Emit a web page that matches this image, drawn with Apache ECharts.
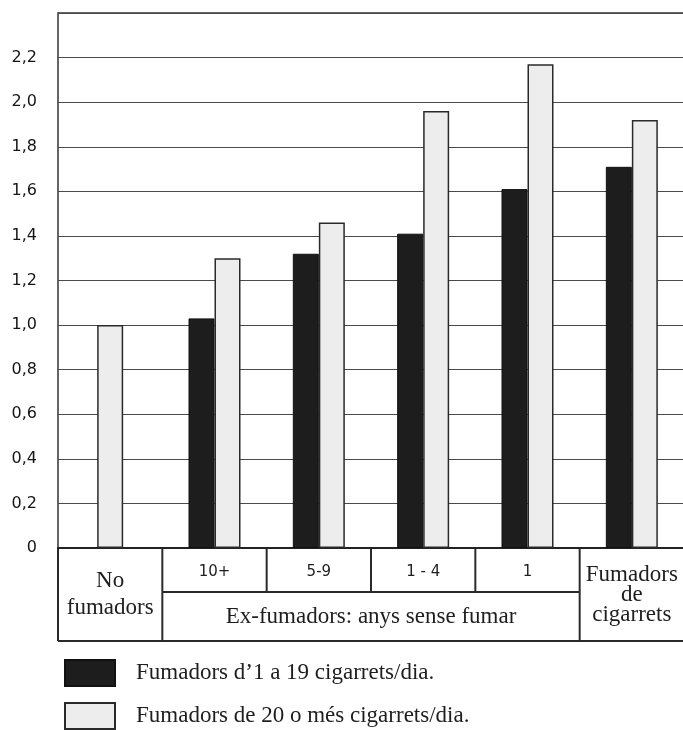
<!DOCTYPE html>
<html>
<head>
<meta charset="utf-8">
<script src="https://cdn.jsdelivr.net/npm/echarts@6/dist/echarts.min.js"></script>
<style>
  html, body { margin: 0; padding: 0; background: #fff; }
  #chart { width: 683px; height: 730px; }
</style>
</head>
<body>
<div id="chart"></div>
<script>
// data
const categories = ['No fumadors', '10+', '5-9', '1 - 4', '1', 'Fumadors de cigarrets'];
const topRowLabels = ['', '10+', '5-9', '1 - 4', '1', ''];
const noSmokers = [1.0, '-', '-', '-', '-', '-'];
const light = ['-', 1.30, 1.46, 1.96, 2.17, 1.92];
const dark = ['-', 1.03, 1.32, 1.41, 1.61, 1.71];
const darkName = 'Fumadors d\u20191 a 19 cigarrets/dia.';
const lightName = 'Fumadors de 20 o més cigarrets/dia.';
const groups = [
  { text: 'No\nfumadors', from: 0, to: 0, lh: 27 },
  { text: 'Ex-fumadors: anys sense fumar', from: 1, to: 4, lh: 22 },
  { text: 'Fumadors\nde\ncigarrets', from: 5, to: 5, lh: 20 }
];
const yMax = 2.4;
const yStep = 0.2;

const serif = '"Liberation Serif", "DejaVu Serif", serif';
const sans = '"DejaVu Sans", sans-serif';
const ink = '#1e1e1e';

const chart = echarts.init(document.getElementById('chart'));

const legendBase = {
  orient: 'vertical',
  left: 64,
  padding: 0,
  icon: 'rect',
  itemWidth: 50,
  itemHeight: 26,
  textStyle: {
    fontFamily: serif,
    fontSize: 23,
    color: ink,
    padding: [2, 0, 0, 16]
  }
};

const option = {
  animation: false,
  backgroundColor: '#fff',
  grid: {
    left: 58,
    right: -1,
    top: 13,
    bottom: 182,
    show: true,
    borderColor: '#333',
    borderWidth: 1.5,
    outerBoundsMode: 'none'
  },
  legend: [
    Object.assign({}, legendBase, { top: 659, data: [darkName] }),
    Object.assign({}, legendBase, { top: 702, data: [lightName] })
  ],
  xAxis: [
    {
      type: 'category',
      data: categories,
      axisLabel: { show: false },
      axisTick: { show: false },
      axisLine: { show: true, lineStyle: { color: '#222', width: 2 } }
    },
    {
      type: 'category',
      data: categories,
      show: false
    }
  ],
  yAxis: {
    type: 'value',
    min: 0,
    max: yMax,
    interval: yStep,
    axisLine: { show: false },
    axisTick: { show: false },
    splitLine: { lineStyle: { color: '#4a4a4a', width: 1.2 } },
    axisLabel: {
      margin: 21,
      padding: [0, 0, 10, 0],
      fontFamily: sans,
      fontSize: 16,
      color: '#151515',
      formatter: v => {
        if (v > yMax - 0.01) return '';
        if (v === 0) return '0';
        return v.toFixed(1).replace('.', ',');
      }
    }
  },
  series: [
    {
      name: darkName,
      type: 'bar',
      data: dark,
      barWidth: 26,
      barGap: '0%',
      itemStyle: { color: '#1d1d1d', borderColor: '#111', borderWidth: 1 }
    },
    {
      name: lightName,
      type: 'bar',
      data: light,
      barWidth: 26,
      barGap: '0%',
      itemStyle: { color: '#ededed', borderColor: '#2a2a2a', borderWidth: 1.5 }
    },
    {
      name: lightName,
      type: 'bar',
      xAxisIndex: 1,
      data: noSmokers,
      barWidth: 26,
      itemStyle: { color: '#ededed', borderColor: '#2a2a2a', borderWidth: 1.5 }
    }
  ]
};

chart.setOption(option);

// table under the axis, placed from the category scale
const px = i => chart.convertToPixel({ xAxisIndex: 0 }, categories[i]);
const band = px(1) - px(0);
const edge = i => px(0) + (i - 0.5) * band;
const y0 = chart.convertToPixel({ yAxisIndex: 0 }, 0);
const row1 = y0 + 44;
const row2 = y0 + 93;

const lineStyle = { stroke: '#2a2a2a', lineWidth: 2 };
const seg = (x1, y1, x2, y2) => ({
  type: 'line', silent: true,
  shape: { x1, y1, x2, y2 },
  style: lineStyle
});

const graphics = [];
graphics.push(seg(edge(0), row2, edge(6), row2));
graphics.push(seg(edge(0), y0, edge(0), row2));
graphics.push(seg(edge(1), y0, edge(1), row2));
graphics.push(seg(edge(5), y0, edge(5), row2));
[2, 3, 4].forEach(i => graphics.push(seg(edge(i), y0, edge(i), row1)));
graphics.push(seg(edge(1), row1, edge(5), row1));

topRowLabels.forEach((t, i) => {
  if (!t) return;
  graphics.push({
    type: 'text', silent: true,
    x: px(i), y: (y0 + row1) / 2 + 2,
    style: {
      text: t, fontFamily: sans, fontSize: 15, fill: ink,
      align: 'center', verticalAlign: 'middle'
    }
  });
});

groups.forEach(g => {
  const full = g.from === g.to;
  graphics.push({
    type: 'text', silent: true,
    x: (edge(g.from) + edge(g.to + 1)) / 2,
    y: full ? (y0 + row2) / 2 : (row1 + row2) / 2,
    style: {
      text: g.text, fontFamily: serif, fontSize: 23, fill: ink,
      lineHeight: g.lh, align: 'center', verticalAlign: 'middle'
    }
  });
});

chart.setOption({ graphic: graphics });
</script>
</body>
</html>
